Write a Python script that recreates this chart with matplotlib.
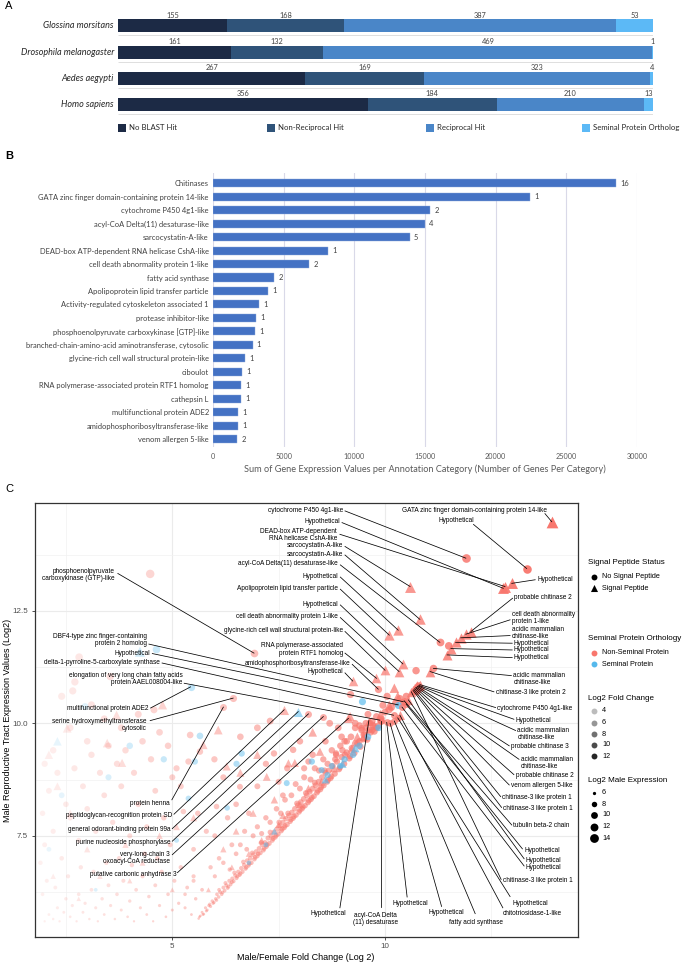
import matplotlib
matplotlib.use('Agg')
import matplotlib.pyplot as plt
import numpy as np
from matplotlib import font_manager as fm
from matplotlib.patches import Rectangle

# ---------------- DATA ----------------
# Panel A
species = ['Glossina morsitans', 'Drosophila melanogaster', 'Aedes aegypti', 'Homo sapiens']
no_blast = [155, 161, 267, 356]
non_recip = [168, 132, 169, 184]
recip = [387, 469, 323, 210]
seminal_orth = [53, 1, 4, 13]
hit_types = ['No BLAST Hit', 'Non-Reciprocal Hit', 'Reciprocal Hit', 'Seminal Protein Ortholog']

# Panel B
annot_cats = ['Chitinases', 'GATA zinc finger domain-containing protein 14-like',
              'cytochrome P450 4g1-like', 'acyl-CoA Delta(11) desaturase-like',
              'sarcocystatin-A-like', 'DEAD-box ATP-dependent RNA helicase CshA-like',
              'cell death abnormality protein 1-like', 'fatty acid synthase',
              'Apolipoprotein lipid transfer particle', 'Activity-regulated cytoskeleton associated 1',
              'protease inhibitor-like', 'phosphoenolpyruvate carboxykinase [GTP]-like',
              'branched-chain-amino-acid aminotransferase, cytosolic',
              'glycine-rich cell wall structural protein-like', 'ciboulot',
              'RNA polymerase-associated protein RTF1 homolog', 'cathepsin L',
              'multifunctional protein ADE2', 'amidophosphoribosyltransferase-like',
              'venom allergen 5-like']
annot_sum = [28500, 22450, 15370, 15000, 13910, 8165, 6800, 4345, 3910, 3290,
             3040, 2980, 2795, 2265, 2080, 2015, 1955, 1800, 1770, 1705]
annot_genes = [16, 1, 2, 4, 5, 1, 2, 2, 1, 1, 1, 1, 1, 1, 1, 1, 1, 1, 1, 2]

# Panel C : (log2 fold change, log2 male expression)
circle_nonseminal = [
    (5.62,5.66),(5.66,5.72),(5.70,5.80),(5.74,5.76),(5.78,5.90),(5.82,5.85),(5.86,5.95),(5.90,5.93),(5.94,6.05),(5.98,6.02),
    (6.02,6.10),(6.05,6.20),(6.09,6.14),(6.12,6.25),(6.16,6.20),(6.20,6.35),(6.23,6.28),(6.27,6.40),(6.30,6.34),(6.34,6.50),
    (6.37,6.42),(6.41,6.55),(6.44,6.49),(6.48,6.62),(6.51,6.56),(6.55,6.70),(6.58,6.63),(6.62,6.78),(6.65,6.70),(6.69,6.85),
    (6.72,6.77),(6.76,6.95),(6.79,6.84),(6.83,7.00),(6.86,6.90),(6.90,7.08),(6.93,6.98),(6.97,7.15),(7.00,7.05),(7.04,7.22),
    (7.07,7.12),(7.11,7.30),(7.14,7.18),(7.18,7.35),(7.21,7.26),(7.25,7.45),(7.28,7.33),(7.32,7.50),(7.35,7.40),(7.39,7.58),
    (7.42,7.47),(7.46,7.65),(7.49,7.54),(7.53,7.72),(7.56,7.61),(7.60,7.80),(7.63,7.68),(7.67,7.88),(7.70,7.75),(7.74,7.95),
    (7.77,7.82),(7.81,8.02),(7.84,7.89),(7.88,8.10),(7.91,7.96),(7.95,8.18),(7.98,8.03),(8.02,8.25),(8.05,8.10),(8.09,8.32),
    (8.12,8.17),(8.16,8.40),(8.19,8.24),(8.23,8.48),(8.26,8.31),(8.30,8.55),(8.33,8.38),(8.37,8.62),(8.40,8.46),(8.44,8.70),
    (8.48,8.53),(8.52,8.80),(8.56,8.62),(8.60,8.90),(8.64,8.70),(8.68,8.95),(8.72,8.78),(8.77,9.05),(8.82,8.88),(8.87,9.15),
    (8.92,8.98),(8.98,9.25),(9.04,9.10),(9.10,9.35),(9.16,9.22),(9.22,9.45),(9.28,9.34),(9.35,9.55),(9.42,9.48),(9.50,9.65),
    (9.58,9.64),(9.66,9.80),(9.75,9.82),(9.85,9.95),
    (5.64,5.70),(5.72,5.75),(5.80,5.83),(5.88,5.98),(5.96,6.00),(6.04,6.07),(6.10,6.30),(6.18,6.24),(6.25,6.45),(6.32,6.37),
    (6.40,6.47),(6.46,6.68),(6.53,6.60),(6.60,6.66),(6.67,6.92),(6.74,6.80),(6.81,6.88),(6.88,7.12),(6.95,7.02),(7.02,7.10),
    (7.09,7.35),(7.16,7.22),(7.23,7.30),(7.30,7.58),(7.37,7.44),(7.44,7.51),(7.51,7.80),(7.58,7.65),(7.65,7.72),(7.72,8.00),
    (7.79,7.86),(7.86,7.93),(7.93,8.22),(8.00,8.07),(8.07,8.14),(8.14,8.45),(8.21,8.28),(8.28,8.35),(8.35,8.68),(8.42,8.50),
    (8.50,8.58),(8.58,8.95),(8.66,8.74),(8.74,8.82),(8.83,9.20),(8.94,9.02),(9.06,9.30),(9.18,9.27),(9.30,9.55),(9.40,9.60),
    (9.52,9.75),(9.62,9.85),(9.72,9.95),(9.80,9.90),(9.92,10.05),
    (6.00,6.60),(6.20,6.90),(6.35,6.75),(6.50,7.10),(6.60,7.30),(6.75,7.20),(6.90,7.50),(7.00,7.70),(7.10,7.55),(7.20,7.90),
    (7.30,7.80),(7.45,8.10),(7.55,8.00),(7.65,8.30),(7.80,8.40),(7.90,8.65),(8.00,8.55),(8.10,8.80),(8.25,8.75),(8.35,9.00),
    (8.45,8.95),(8.55,9.20),(8.65,9.10),(8.75,9.40),(8.85,9.30),(8.95,9.50),(9.05,9.60),(9.20,9.70),(9.30,9.90),(9.45,9.85),
    (9.55,10.00),(9.70,10.05),
    (5.42,9.74),(5.65,9.37),(5.38,9.15),(5.99,9.20),(6.04,8.15),(5.26,8.04),(6.59,8.59),(7.39,9.33),(7.84,9.41),(8.20,9.15),
    (8.85,9.33),(8.98,9.70),(9.45,9.89),(9.19,10.64),(6.00,7.50),(6.30,7.90),(6.50,8.20),(6.80,8.00),(7.00,8.60),(7.20,9.10),
    (7.50,8.70),(7.70,9.00),(8.00,9.60),(8.30,9.30),(8.60,9.60),(8.90,9.90),(9.10,9.60),(9.30,10.00),(9.60,10.20),(5.50,7.20),
    (5.80,7.60),(6.20,8.80),(6.60,9.70),(7.00,9.90),(7.30,10.05),(8.70,10.00),(5.20,8.60),(5.60,8.00),(6.10,7.00),(6.40,7.30),
    (5.90,6.80),(5.50,6.50),(5.30,6.20),(5.70,6.30),(6.70,7.60),(7.60,8.40),(8.10,9.00),(9.00,9.40),(9.50,9.75),(9.90,10.10),
    (10.00,10.25),(10.10,10.30),(10.15,10.35),(10.25,10.45),(10.35,10.55),(10.50,10.60),(9.95,10.40),(10.05,10.60),(11.50,11.72),
    (10.73,11.17),(9.40,9.95),(9.55,9.90),(9.65,10.00),(9.70,9.85),(9.80,10.15),
    (2.00,5.60),(2.10,5.75),(2.20,5.65),(2.30,5.90),(2.35,5.60),(2.45,5.80),(2.50,6.10),(2.60,5.70),(2.65,5.95),(2.75,5.60),
    (2.80,6.20),(2.90,5.80),(2.95,6.00),(3.05,5.65),(3.10,6.30),(3.20,5.90),(3.25,5.60),(3.35,6.10),(3.40,5.75),(3.50,6.40),
    (3.55,5.95),(3.65,5.65),(3.70,6.20),(3.80,5.85),(3.85,6.50),(3.95,5.70),(4.00,6.05),(4.10,5.60),(4.15,6.30),(4.25,5.90),
    (4.30,6.60),(4.40,5.75),(4.45,6.15),(4.55,5.60),(4.60,6.40),(4.70,5.95),(4.75,6.70),(4.85,5.70),(4.90,6.20),(5.00,5.85),
    (5.05,6.50),(5.15,6.00),(5.20,6.80),(5.30,5.90),(5.35,6.35),(5.45,5.75),(5.50,6.60),(5.55,6.10),(1.95,6.20),(2.05,6.50),
    (2.25,6.35),(2.55,6.60),(2.85,6.80),(3.15,6.70),(3.45,6.90),(3.75,7.00),(4.05,6.85),(4.35,7.10),(4.65,7.00),(4.95,7.30),
    (2.00,7.30),(2.20,7.60),(2.40,7.00),(2.60,7.90),(2.80,7.40),(3.00,8.10),(3.20,7.60),(3.40,8.40),(3.60,7.80),(3.80,8.60),
    (4.00,7.50),(4.20,8.20),(4.40,7.70),(4.60,8.50),(4.80,7.90),(5.00,8.80),(2.10,8.50),(2.30,8.90),(2.50,8.20),(2.70,9.00),
    (2.90,8.60),(3.10,9.30),(3.30,8.90),(3.50,9.50),(3.70,9.10),(3.90,9.40),(4.10,8.90),(4.30,9.60),(4.50,9.20),(4.70,9.80),
    (4.90,9.50),(5.10,9.00),(2.20,9.40),(2.60,9.90),(3.00,9.60),(3.40,10.10),(3.80,9.90),(4.20,10.20),(2.40,10.60),(2.81,11.47),
    (2.71,10.92),(2.66,10.72),(3.54,11.04),(3.10,10.41),(4.57,10.30),(4.48,13.32),(2.00,9.10),(1.95,8.00),(1.90,6.90),
]
triangle_nonseminal = [
    (6.08,9.85),(5.73,9.52),(6.28,9.04),(7.22,8.81),(7.73,9.11),(7.88,9.12),(8.47,9.37),(9.22,9.44),(9.35,9.70),(8.51,8.70),
    (7.40,8.30),(6.90,8.00),(6.50,7.60),(6.20,7.20),(7.60,7.95),(8.20,8.55),(8.80,9.00),(9.50,9.70),(9.75,9.95),(5.85,6.30),
    (6.40,6.80),(6.80,7.10),(7.10,7.40),(7.50,7.75),(8.00,8.20),(5.50,7.90),(6.60,8.90),(7.00,9.30),(8.30,9.80),(9.90,10.20),
    (10.10,10.40),(10.30,10.60),(9.18,10.15),(10.22,10.78),(10.76,10.83),(10.71,10.78),
    (4.77,10.41),(3.69,10.18),(2.53,9.89),(3.47,9.56),(3.82,9.12),(2.10,9.30),(2.30,8.60),(2.60,8.00),(3.00,7.20),(3.30,6.60),
    (3.90,7.30),(4.30,6.90),(4.70,7.50),(5.10,7.70),(2.20,6.60),(2.80,6.10),(4.00,6.50),(5.00,6.30),
]
circle_seminal = [
    (5.65,9.72),(5.53,9.15),(6.63,9.33),(6.51,9.10),(5.38,8.33),(6.29,8.12),(7.69,8.67),(8.28,9.15),(8.51,8.96),(8.65,8.85),
    (8.95,9.05),(9.25,9.30),(9.47,10.48),(9.60,9.70),(9.40,9.50),(7.20,7.30),(6.80,6.90),(9.85,9.90),(4.63,11.64),(2.95,10.37),
    (4.80,9.20),(3.50,8.80),(2.40,8.40),(4.00,9.50),(5.10,7.40),(2.10,7.20),(3.20,6.30),(9.05,9.20),(8.75,9.05),
]
triangle_seminal = [(4.24,11.59),(8.60,8.75),(9.00,9.10),(7.40,7.60),(2.30,9.60),(9.30,9.45)]

# labelled genes: (name, log2 FC, log2 expression, signal peptide, seminal)
labeled_genes = [
    ("cytochrome P450 4g1-like", 11.90, 13.67, 0, 0),
    ("Hypothetical", 12.78, 13.00, 1, 0),
    ("DEAD-box ATP-dependent\nRNA helicase CshA-like", 12.82, 13.04, 1, 0),
    ("sarcocystatin-A-like", 10.59, 13.04, 1, 0),
    ("sarcocystatin-A-like", 10.82, 12.31, 1, 0),
    ("acyl-CoA Delta(11) desaturase-like", 11.29, 11.80, 0, 0),
    ("Hypothetical", 10.31, 12.07, 1, 0),
    ("Apolipoprotein lipid transfer particle", 10.10, 11.96, 1, 0),
    ("Hypothetical", 10.42, 11.32, 1, 0),
    ("cell death abnormality protein 1-like", 10.33, 11.15, 1, 0),
    ("glycine-rich cell wall structural protein-like", 10.00, 11.18, 1, 0),
    ("RNA polymerase-associated\nprotein RTF1 homolog", 9.80, 11.00, 1, 0),
    ("amidophosphoribosyltransferase-like", 9.84, 10.76, 0, 0),
    ("Hypothetical", 9.24, 10.94, 1, 0),
    ("phosphoenolpyruvate\ncarboxykinase (GTP)-like", 6.92, 11.56, 0, 0),
    ("DBF4-type zinc finger-containing\nprotein 2 homolog", 10.43, 10.48, 0, 0),
    ("Hypothetical", 10.31, 10.41, 0, 1),
    ("delta-1-pyrroline-5-carboxylate synthase", 10.20, 10.18, 0, 0),
    ("elongation of very long chain fatty acids\nprotein AAEL008004-like", 9.88, 10.07, 0, 0),
    ("multifunctional protein ADE2", 5.43, 10.81, 0, 1),
    ("serine hydroxymethyltransferase\ncytosolic", 6.43, 10.56, 0, 0),
    ("protein henna", 6.20, 10.36, 0, 0),
    ("peptidoglycan-recognition protein SD", 7.63, 10.30, 1, 0),
    ("general odorant-binding protein 99a", 7.96, 10.26, 1, 1),
    ("purine nucleoside phosphorylase", 8.20, 10.21, 0, 0),
    ("very-long-chain 3\noxoacyl-CoA reductase", 8.55, 10.15, 0, 0),
    ("putative carbonic anhydrase 3", 9.14, 10.11, 1, 0),
    ("Hypothetical", 9.62, 10.06, 1, 0),
    ("acyl-CoA Delta\n(11) desaturase", 9.90, 10.05, 0, 0),
    ("Hypothetical", 10.04, 10.02, 0, 0),
    ("Hypothetical", 10.12, 10.00, 0, 0),
    ("fatty acid synthase", 10.22, 10.05, 0, 0),
    ("Hypothetical", 10.30, 10.12, 0, 0),
    ("chitotriosidase-1-like", 10.35, 10.18, 1, 0),
    ("GATA zinc finger domain-containing protein 14-like", 13.92, 14.48, 1, 0),
    ("Hypothetical", 13.33, 13.44, 0, 0),
    ("Hypothetical", 12.98, 13.11, 1, 0),
    ("probable chitinase 2", 12.02, 12.04, 1, 0),
    ("cell death abnormality\nprotein 1-like", 11.90, 11.98, 1, 0),
    ("acidic mammalian\nchitinase-like", 11.78, 11.90, 1, 0),
    ("Hypothetical", 11.66, 11.80, 1, 0),
    ("Hypothetical", 11.55, 11.66, 1, 0),
    ("Hypothetical", 11.46, 11.52, 1, 0),
    ("acidic mammalian\nchitinase-like", 11.14, 11.22, 0, 0),
    ("chitinase-3 like protein 2", 11.06, 11.15, 1, 0),
    ("cytochrome P450 4g1-like", 10.82, 10.86, 1, 0),
    ("Hypothetical", 10.80, 10.84, 1, 0),
    ("acidic mammalian\nchitinase-like", 10.78, 10.83, 1, 0),
    ("probable chitinase 3", 10.76, 10.82, 1, 0),
    ("acidic mammalian\nchitinase-like", 10.74, 10.80, 1, 0),
    ("probable chitinase 2", 10.72, 10.79, 1, 0),
    ("venom allergen 5-like", 10.70, 10.77, 1, 0),
    ("chitinase-3 like protein 1", 10.68, 10.75, 1, 0),
    ("chitinase-3 like protein 1", 10.66, 10.73, 1, 0),
    ("tubulin beta-2 chain", 10.45, 10.50, 0, 0),
    ("Hypothetical", 10.50, 10.42, 0, 0),
    ("Hypothetical", 10.55, 10.52, 1, 0),
    ("Hypothetical", 10.40, 10.36, 0, 0),
    ("chitinase-3 like protein 1", 10.62, 10.70, 1, 0),
]

# ---------------- LAYOUT (label positions, data units of panel C) ----------------
label_layout = [
    (9.01, 14.74, 'right', 9.06, 14.72), (8.94, 14.48, 'right', 8.99, 14.46),
    (8.87, 14.19, 'right', 8.94, 14.20), (9.01, 13.95, 'right', 9.06, 13.93),
    (9.01, 13.76, 'right', 9.06, 13.74), (8.90, 13.55, 'right', 8.95, 13.52),
    (8.90, 13.27, 'right', 8.95, 13.25), (8.90, 13.00, 'right', 8.95, 12.98),
    (8.90, 12.65, 'right', 8.95, 12.63), (8.90, 12.37, 'right', 8.95, 12.35),
    (9.01, 12.06, 'right', 9.06, 12.04), (9.01, 11.64, 'right', 9.06, 11.56),
    (9.18, 11.33, 'right', 9.23, 11.31), (9.01, 11.15, 'right', 9.06, 11.12),
    (3.65, 13.30, 'right', 3.72, 13.33), (4.40, 11.85, 'right', 4.45, 11.76),
    (4.48, 11.56, 'right', 4.53, 11.55), (4.71, 11.35, 'right', 4.76, 11.34),
    (5.24, 10.98, 'right', 5.28, 10.89), (4.44, 10.32, 'right', 4.49, 10.34),
    (4.40, 9.97, 'right', 4.48, 10.06), (4.95, 8.22, 'right', 4.99, 8.30),
    (4.99, 7.96, 'right', 5.04, 7.98), (4.95, 7.63, 'right', 5.00, 7.66),
    (4.95, 7.35, 'right', 5.00, 7.38), (4.95, 7.00, 'right', 5.00, 7.08),
    (5.10, 6.63, 'right', 5.12, 6.68),
    (8.67, 5.78, 'center', 8.94, 5.90), (9.78, 5.65, 'center', 9.90, 5.92),
    (10.60, 6.00, 'center', 10.52, 6.14), (11.43, 5.79, 'center', 11.33, 5.93),
    (12.14, 5.58, 'center', 12.12, 5.77), (13.41, 6.00, 'center', 12.94, 6.15),
    (13.46, 5.78, 'center', 12.77, 5.90),
    (13.80, 14.72, 'right', 13.76, 14.66), (12.09, 14.50, 'right', 12.08, 14.42),
    (13.58, 13.20, 'left', 13.53, 13.19), (13.03, 12.80, 'left', 13.00, 12.78),
    (12.99, 12.34, 'left', 12.94, 12.30), (12.98, 12.00, 'left', 12.94, 11.95),
    (13.03, 11.78, 'left', 12.99, 11.78), (13.03, 11.63, 'left', 12.99, 11.63),
    (13.03, 11.46, 'left', 12.99, 11.46), (13.02, 10.98, 'left', 12.97, 11.06),
    (12.60, 10.69, 'left', 12.56, 10.70), (12.64, 10.33, 'left', 12.60, 10.35),
    (13.07, 10.07, 'left', 13.03, 10.09), (13.11, 9.76, 'left', 13.07, 9.84),
    (12.96, 9.48, 'left', 12.92, 9.50), (13.19, 9.12, 'left', 13.15, 9.20),
    (13.07, 8.84, 'left', 13.03, 8.86), (12.96, 8.61, 'left', 12.92, 8.63),
    (12.76, 8.35, 'left', 12.72, 8.37), (12.78, 8.11, 'left', 12.74, 8.13),
    (13.02, 7.72, 'left', 12.98, 7.74), (13.27, 7.18, 'left', 13.23, 7.21),
    (13.31, 6.96, 'left', 13.27, 6.99), (13.31, 6.80, 'left', 13.27, 6.83),
    (12.77, 6.50, 'left', 12.73, 6.53),
]

# ---------------- FIGURE ----------------
W, H = 685, 963
fig = plt.figure(figsize=(W / 100, H / 100), dpi=100)


def pick(cands):
    for f in cands:
        try:
            fm.findfont(fm.FontProperties(family=f), fallback_to_default=False)
            return f
        except Exception:
            pass
    return 'DejaVu Sans'


NARROW = pick(['Liberation Sans Narrow', 'Lato', 'Open Sans'])
SANS = pick(['Liberation Sans', 'Arial', 'DejaVu Sans'])


def ax_px(x0, y0, x1, y1):
    return fig.add_axes([x0 / W, 1 - y1 / H, (x1 - x0) / W, (y1 - y0) / H])


ov = ax_px(0, 0, W, H)
ov.set_xlim(0, W)
ov.set_ylim(H, 0)
ov.axis('off')
ov.set_zorder(10)

# ---- Panel A ----
axA = ax_px(118, 0, 653, 140)
axA.set_xlim(0, sum([no_blast[0], non_recip[0], recip[0], seminal_orth[0]]))
axA.set_ylim(140, 0)
axA.axis('off')
rowsA = [26, 52.3, 78.6, 104.9]
colsA = ['#1C2A45', '#2F5379', '#4A86C8', '#5CB9F6']
left = np.zeros(4)
for vals, c in zip([no_blast, non_recip, recip, seminal_orth], colsA):
    axA.barh(rowsA, vals, left=left, height=13, color=c, edgecolor='none')
    for r, l, v in zip(rowsA, left, vals):
        axA.text(l + v / 2, r - 11, str(v), ha='center', va='center', fontsize=5.3,
                 family=NARROW, color='#404040')
    left = left + np.array(vals)
axA.hlines([35.5, 61.8, 88.1, 114.4], 0, 763, color='#D9D9D9', lw=0.6)
for r, name in zip(rowsA, species):
    ov.text(114, r, name, ha='right', va='center', style='italic', fontsize=6.5,
            family=NARROW, color='#262626')
for x0, c, lab in zip([118, 267, 426, 582], colsA, hit_types):
    ov.add_patch(Rectangle((x0, 123.7), 8, 8, color=c, lw=0))
    ov.text(x0 + 11, 127.7, lab, ha='left', va='center', fontsize=5.6, family=NARROW, color='#262626')
ov.text(5, 6, 'A', fontsize=8, family=SANS, va='center', ha='left')

# ---- Panel B ----
STEP = 13.46
axB = ax_px(213, 173, 637, 447)
ypos = np.arange(len(annot_cats))
axB.set_xlim(0, 30000)
axB.set_ylim(len(annot_cats) - 1 + 8 / STEP, -10.3 / STEP)
for gx in range(0, 30001, 5000):
    axB.axvline(gx, color='#D9D9E8', lw=0.8, zorder=0)
axB.barh(ypos, annot_sum, height=0.6, color='#4472C4', edgecolor='#8FAADC', lw=0.3, zorder=2)
for i, (v, n) in enumerate(zip(annot_sum, annot_genes)):
    axB.text(v + 300, i, str(n), va='center', ha='left', fontsize=5.4, family=NARROW, color='#404040')
axB.set_yticks(ypos)
axB.set_yticklabels(annot_cats, fontsize=5.4, family=NARROW, color='#404040')
axB.set_xticks(range(0, 30001, 5000))
axB.set_xticklabels([str(v) for v in range(0, 30001, 5000)], fontsize=5.2, family=NARROW, color='#595959')
axB.tick_params(length=0, axis='y', pad=3)
axB.tick_params(length=0, axis='x', pad=4.5)
for s in axB.spines.values():
    s.set_visible(False)
ov.text(425, 469, 'Sum of Gene Expression Values per Annotation Category (Number of Genes Per Category)',
        ha='center', va='center', fontsize=6.6, family=NARROW, color='#595959')
ov.text(5, 156, 'B', fontsize=8, family=SANS, va='center', ha='left', weight='bold')

# ---- Panel C ----
axC = ax_px(34.5, 503, 577.5, 937)
axC.set_xlim(1.761, 14.525)
axC.set_ylim(5.251, 14.896)
axC.set_xticks([5, 10])
axC.set_xticks([2.5, 7.5, 12.5], minor=True)
axC.set_yticks([7.5, 10.0, 12.5])
axC.set_yticks([6.25, 8.75, 11.25, 13.75], minor=True)
axC.set_xticklabels(['5', '10'], fontsize=5.8, family=SANS, color='#4D4D4D')
axC.set_yticklabels(['7.5', '10.0', '12.5'], fontsize=5.8, family=SANS, color='#4D4D4D')
axC.grid(True, which='major', color='#EBEBEB', lw=0.8)
axC.grid(True, which='minor', color='#F2F2F2', lw=0.5)
axC.set_axisbelow(True)
axC.tick_params(which='major', length=2.5, width=0.6, color='#333333', pad=2)
axC.tick_params(which='minor', length=0)
for s in axC.spines.values():
    s.set_color('#333333')
    s.set_linewidth(0.9)

PINK = np.array([248, 118, 109]) / 255
BLUE = np.array([86, 185, 236]) / 255
FC_MIN, FC_MAX = 1.8, 14.0
EX_MIN, EX_MAX = 5.5, 14.5


def alpha_of(fc):
    return np.clip(0.1 + 0.9 * (np.asarray(fc) - FC_MIN) / (FC_MAX - FC_MIN), 0.05, 1.0)


def diam_px(ex):
    return 1.5 * (1 + 5 * np.sqrt(np.clip((np.asarray(ex) - EX_MIN) / (EX_MAX - EX_MIN), 0, 1)))


def size_of(ex, tri=False):
    s = (diam_px(ex) * 0.72) ** 2
    return s * 1.7 if tri else s


def draw(ax, pts, base, marker):
    pts = np.array(pts)
    x, y = pts[:, 0], pts[:, 1]
    cols = np.zeros((len(x), 4))
    cols[:, :3] = base
    cols[:, 3] = alpha_of(x)
    ax.scatter(x, y, s=size_of(y, marker == '^'), c=cols, marker=marker, linewidths=0, zorder=2)


draw(axC, circle_nonseminal, PINK, 'o')
draw(axC, triangle_nonseminal, PINK, '^')
draw(axC, circle_seminal, BLUE, 'o')
draw(axC, triangle_seminal, BLUE, '^')
for name, fc, ex, sig, sem in labeled_genes:
    col = list(BLUE if sem else PINK) + [float(alpha_of(fc))]
    mk = '^' if sig else 'o'
    axC.scatter([fc], [ex], s=size_of(ex, sig == 1), c=[col], marker=mk, linewidths=0, zorder=3)

for (name, fc, ex, sig, sem), (tx, ty, ha, sx, sy) in zip(labeled_genes, label_layout):
    axC.plot([sx, fc], [sy, ex], color='black', lw=0.55, zorder=4, clip_on=False)
    axC.text(tx, ty, name, ha=ha, va='center', multialignment=ha, fontsize=4.7, family=SANS,
             color='black', zorder=5, linespacing=1.05, clip_on=False)

ov.text(306, 957, 'Male/Female Fold Change (Log 2)', ha='center', va='center', fontsize=6.5, family=SANS)
ov.text(8, 720, 'Male Reproductive Tract Expression Values (Log2)', ha='center', va='center',
        rotation=90, fontsize=6.5, family=SANS)
ov.text(5, 489, 'C', fontsize=8, family=SANS, va='center', ha='left')

# legends for C
LX = 588
ov.text(LX, 562, 'Signal Peptide Status', fontsize=5.8, family=SANS, va='center')
ov.scatter([594], [577], s=18, c='black', marker='o', linewidths=0)
ov.scatter([594], [588], s=26, c='black', marker='^', linewidths=0)
ov.text(602, 577, 'No Signal Peptide', fontsize=5.2, family=SANS, va='center')
ov.text(602, 588, 'Signal Peptide', fontsize=5.2, family=SANS, va='center')

ov.text(LX, 638, 'Seminal Protein Orthology', fontsize=5.8, family=SANS, va='center')
ov.scatter([594], [653], s=18, c=[PINK], marker='o', linewidths=0)
ov.scatter([594], [664], s=18, c=[BLUE], marker='o', linewidths=0)
ov.text(602, 653, 'Non-Seminal Protein', fontsize=5.2, family=SANS, va='center')
ov.text(602, 664, 'Seminal Protein', fontsize=5.2, family=SANS, va='center')

ov.text(LX, 699, 'Log2 Fold Change', fontsize=5.8, family=SANS, va='center')
for v, yy in zip([4, 6, 8, 10, 12], [711, 723, 734, 745, 756]):
    ov.scatter([594], [yy], s=18, c=[(0, 0, 0, float(alpha_of(v)))], marker='o', linewidths=0)
    ov.text(602, yy, str(v), fontsize=5.2, family=SANS, va='center')

ov.text(LX, 781, 'Log2 Male Expression', fontsize=5.8, family=SANS, va='center')
for v, yy in zip([6, 8, 10, 12, 14], [793, 804, 815, 827, 838]):
    ov.scatter([594], [yy], s=size_of(v), c='black', marker='o', linewidths=0)
    ov.text(602, yy, str(v), fontsize=5.2, family=SANS, va='center')

fig.savefig('out.png', dpi=100)
